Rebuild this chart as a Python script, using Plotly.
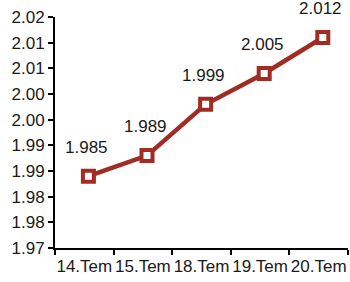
import plotly.graph_objects as go

categories = ["14.Tem", "15.Tem", "18.Tem", "19.Tem", "20.Tem"]
values = [1.984, 1.988, 1.998, 2.004, 2.011]
labels = ["1.985", "1.989", "1.999", "2.005", "2.012"]
ytick_vals = [1.970, 1.975, 1.980, 1.985, 1.990, 1.995, 2.000, 2.005, 2.010, 2.015]
ytick_text = ["1.97", "1.98", "1.98", "1.99", "1.99", "2.00", "2.00", "2.01", "2.01", "2.02"]

color = "#A02C24"
text_color = "#1a1a1a"
font_family = "Liberation Sans, Arial"
fs = 17
fig = go.Figure()
fig.add_trace(go.Scatter(
    x=categories, y=values, mode="lines+markers", xaxis="x2",
    line=dict(color=color, width=4.5),
    marker=dict(symbol="square", size=11, color="white", line=dict(color=color, width=4)),
    hoverinfo="skip", showlegend=False,
))
# invisible trace to anchor the visible category axis
fig.add_trace(go.Scatter(x=categories, y=values, mode="markers", marker=dict(opacity=0),
                         hoverinfo="skip", showlegend=False))
for c, v, t in zip(categories, values, labels):
    fig.add_annotation(x=c, y=v, xref="x2", yref="y", text=t, showarrow=False,
                       yshift=29, xshift=-2,
                       font=dict(family=font_family, size=fs, color=text_color))

fig.update_layout(
    width=350, height=282, margin=dict(l=55, r=2, t=17, b=34),
    paper_bgcolor="white", plot_bgcolor="white",
    font=dict(family=font_family, size=fs, color=text_color),
    xaxis2=dict(type="category", overlaying="x", range=[-0.57, 4.43], visible=False,
                categoryorder="array", categoryarray=categories),
    xaxis=dict(type="category", showline=True, linecolor="black", linewidth=2,
               ticks="outside", tickson="boundaries", ticklen=5, tickcolor="black",
               tickwidth=2, showgrid=False, tickangle=0, range=[-0.5, 4.5],
               ticklabelstandoff=2,
               tickfont=dict(family=font_family, size=fs, color=text_color)),
)
fig.update_yaxes(range=[1.97, 2.015], tickmode="array", tickvals=ytick_vals, ticktext=ytick_text,
                 showline=True, linecolor="black", linewidth=2, ticks="outside",
                 ticklen=5, tickcolor="black", tickwidth=2, showgrid=False,
                 zeroline=False, tickfont=dict(family=font_family, size=fs, color=text_color))
fig.write_html("out.html", post_script="document.body.style.margin='0';",
               config={"displayModeBar": False})
